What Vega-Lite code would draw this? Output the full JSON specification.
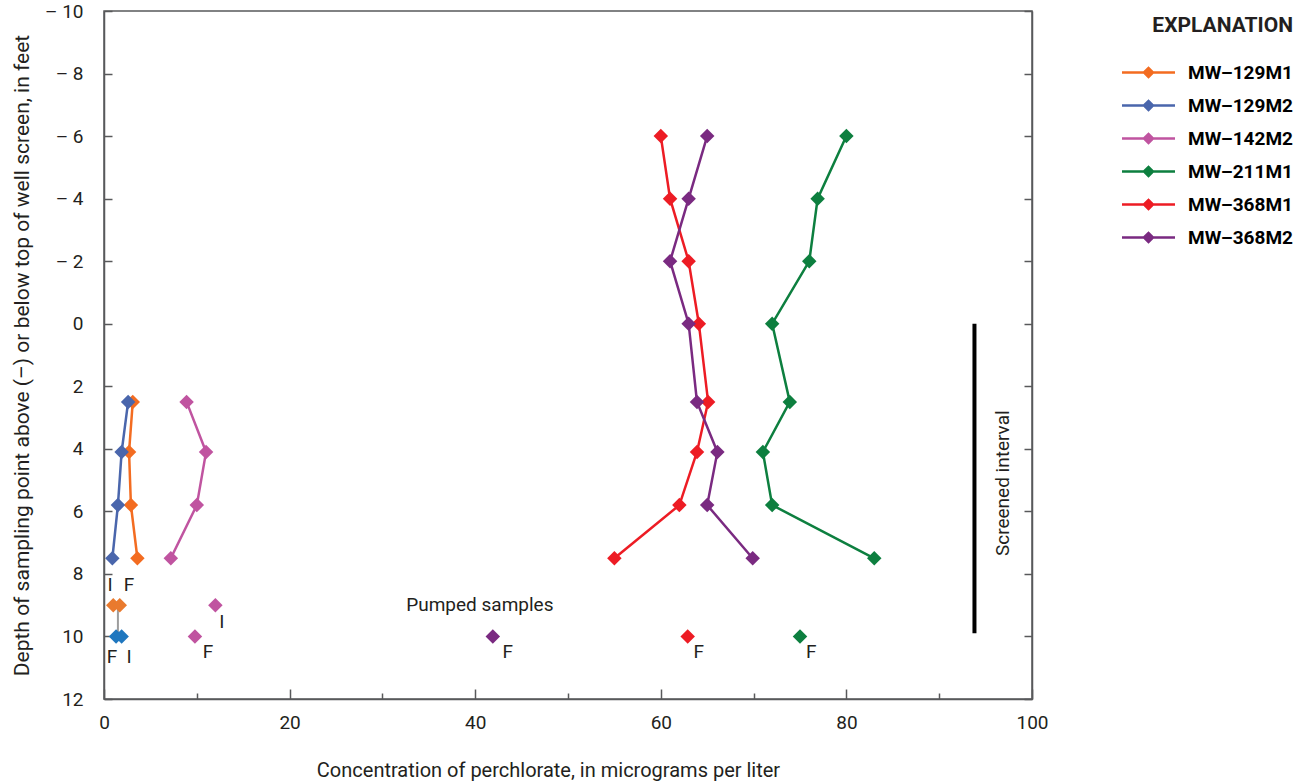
{
  "$schema": "https://vega.github.io/schema/vega-lite/v6.json",
  "autosize": {"type": "none"},
  "width": 928,
  "height": 688,
  "padding": {"left": 104, "top": 11, "right": 263, "bottom": 85},
  "background": "white",
  "config": {
    "font": "Roboto, sans-serif",
    "view": {"stroke": "#58595b", "strokeWidth": 1.5},
    "axis": {
      "labelFont": "Roboto, sans-serif",
      "titleFont": "Roboto, sans-serif",
      "labelColor": "#231f20",
      "titleColor": "#231f20",
      "titleFontWeight": "normal",
      "domainColor": "#58595b",
      "domainWidth": 1.5,
      "tickColor": "#58595b",
      "tickWidth": 1.5,
      "labelFlush": false,
      "grid": false
    }
  },
  "datasets": {
    "profile": [
      {"well": "MW–129M1", "conc": 3.1, "depth": 2.5},
      {"well": "MW–129M1", "conc": 2.7, "depth": 4.1},
      {"well": "MW–129M1", "conc": 2.9, "depth": 5.8},
      {"well": "MW–129M1", "conc": 3.6, "depth": 7.5},
      {"well": "MW–129M2", "conc": 2.6, "depth": 2.5},
      {"well": "MW–129M2", "conc": 1.9, "depth": 4.1},
      {"well": "MW–129M2", "conc": 1.5, "depth": 5.8},
      {"well": "MW–129M2", "conc": 0.9, "depth": 7.5},
      {"well": "MW–142M2", "conc": 8.9, "depth": 2.5},
      {"well": "MW–142M2", "conc": 11.0, "depth": 4.1},
      {"well": "MW–142M2", "conc": 10.0, "depth": 5.8},
      {"well": "MW–142M2", "conc": 7.2, "depth": 7.5},
      {"well": "MW–211M1", "conc": 80.0, "depth": -6},
      {"well": "MW–211M1", "conc": 76.9, "depth": -4},
      {"well": "MW–211M1", "conc": 76.0, "depth": -2},
      {"well": "MW–211M1", "conc": 72.0, "depth": 0},
      {"well": "MW–211M1", "conc": 73.9, "depth": 2.5},
      {"well": "MW–211M1", "conc": 71.0, "depth": 4.1},
      {"well": "MW–211M1", "conc": 72.0, "depth": 5.8},
      {"well": "MW–211M1", "conc": 83.0, "depth": 7.5},
      {"well": "MW–368M1", "conc": 60.0, "depth": -6},
      {"well": "MW–368M1", "conc": 61.0, "depth": -4},
      {"well": "MW–368M1", "conc": 63.0, "depth": -2},
      {"well": "MW–368M1", "conc": 64.1, "depth": 0},
      {"well": "MW–368M1", "conc": 65.1, "depth": 2.5},
      {"well": "MW–368M1", "conc": 63.9, "depth": 4.1},
      {"well": "MW–368M1", "conc": 62.0, "depth": 5.8},
      {"well": "MW–368M1", "conc": 55.0, "depth": 7.5},
      {"well": "MW–368M2", "conc": 65.0, "depth": -6},
      {"well": "MW–368M2", "conc": 63.0, "depth": -4},
      {"well": "MW–368M2", "conc": 61.0, "depth": -2},
      {"well": "MW–368M2", "conc": 63.0, "depth": 0},
      {"well": "MW–368M2", "conc": 63.9, "depth": 2.5},
      {"well": "MW–368M2", "conc": 66.1, "depth": 4.1},
      {"well": "MW–368M2", "conc": 65.0, "depth": 5.8},
      {"well": "MW–368M2", "conc": 69.9, "depth": 7.5}
    ],
    "pumped": [
      {"well": "MW–129M1", "conc": 1.0, "depth": 9},
      {"well": "MW–129M1", "conc": 1.7, "depth": 9},
      {"well": "MW–129M2", "conc": 1.3, "depth": 10},
      {"well": "MW–129M2", "conc": 1.9, "depth": 10},
      {"well": "MW–142M2", "conc": 12.0, "depth": 9},
      {"well": "MW–142M2", "conc": 9.8, "depth": 10},
      {"well": "MW–368M2", "conc": 41.9, "depth": 10},
      {"well": "MW–368M1", "conc": 62.9, "depth": 10},
      {"well": "MW–211M1", "conc": 75.0, "depth": 10}
    ],
    "connector": [{"conc": 1.5, "top": 9, "bottom": 10}],
    "screen": [{"conc": 93.8, "top": 0, "bottom": 9.9}],
    "letters": [
      {"t": "I", "conc": 0.65, "depth": 8.35},
      {"t": "F", "conc": 2.7, "depth": 8.35},
      {"t": "I", "conc": 12.7, "depth": 9.55},
      {"t": "F", "conc": 0.85, "depth": 10.65},
      {"t": "I", "conc": 2.7, "depth": 10.65},
      {"t": "F", "conc": 11.2, "depth": 10.5},
      {"t": "F", "conc": 43.5, "depth": 10.5},
      {"t": "F", "conc": 64.1, "depth": 10.5},
      {"t": "F", "conc": 76.2, "depth": 10.5}
    ],
    "notes": [
      {"t": "Pumped samples", "conc": 40.5, "depth": 9.0, "angle": 0},
      {"t": "Screened interval", "conc": 96.9, "depth": 5.1, "angle": 270}
    ]
  },
  "resolve": {"axis": {"y": "independent"}},
  "layer": [
    {
      "data": {"name": "profile"},
      "mark": {"type": "line", "strokeWidth": 2.5},
      "encoding": {
        "x": {
          "field": "conc", "type": "quantitative",
          "scale": {"domain": [0, 100], "nice": false},
          "axis": {
            "values": [0, 10, 20, 30, 40, 50, 60, 70, 80, 90, 100],
            "labelExpr": "datum.value % 20 == 0 ? datum.label : ''",
            "tickSize": {"condition": {"test": "datum.value % 20 == 0", "value": -10}, "value": -6},
            "labelPadding": 24,
            "labelFontSize": 19,
            "title": "Concentration of perchlorate, in micrograms per liter",
            "titleFontSize": 20,
            "titleBaseline": "middle",
            "titleX": 444,
            "titleY": 71
          }
        },
        "y": {
          "field": "depth", "type": "quantitative",
          "scale": {"domain": [-10, 12], "nice": false, "reverse": true},
          "axis": {
            "orient": "left",
            "values": [-10, -8, -6, -4, -2, 0, 2, 4, 6, 8, 10, 12],
            "labelExpr": "datum.value < 0 ? '– ' + abs(datum.value) : datum.label",
            "tickSize": -8,
            "labelPadding": 29,
            "labelFontSize": 19,
            "title": "Depth of sampling point above (–) or below top of well screen, in feet",
            "titleFontSize": 21,
            "titleAngle": 270,
            "titleBaseline": "middle",
            "titleAlign": "center",
            "titleX": -82,
            "titleY": 344
          }
        },
        "order": {"field": "depth", "type": "quantitative"},
        "color": {
          "field": "well", "type": "nominal",
          "scale": {
            "domain": ["MW–129M1", "MW–129M2", "MW–142M2", "MW–211M1", "MW–368M1", "MW–368M2"],
            "range": ["#f36c21", "#4a66ac", "#c054a0", "#0d7f3f", "#ed1c24", "#7a2a81"]
          },
          "legend": {
            "title": "EXPLANATION",
            "orient": "none",
            "legendX": 1033,
            "legendY": 4,
            "padding": 0,
            "symbolType": "M-2.65,0H2.65M-0.45,0L0,-0.45L0.45,0L0,0.45Z",
            "symbolSize": 400,
            "symbolStrokeWidth": 2.5,
            "labelOffset": 28,
            "rowPadding": 11,
            "titleFont": "Roboto, sans-serif",
            "labelFont": "Roboto, sans-serif",
            "titleFontSize": 21,
            "titleFontWeight": "bold",
            "titleColor": "#231f20",
            "titleAnchor": "end",
            "titlePadding": 25,
            "labelFontSize": 19,
            "labelFontWeight": "bold",
            "labelColor": "#000000",
            "encode": {
              "symbols": {
                "update": {
                  "fill": {"scale": "color", "field": "value"},
                  "stroke": {"scale": "color", "field": "value"},
                  "opacity": {"value": 1}
                }
              }
            }
          }
        }
      }
    },
    {
      "data": {"name": "profile"},
      "mark": {"type": "point", "shape": "diamond", "filled": true, "size": 210, "opacity": 1},
      "encoding": {
        "x": {"field": "conc", "type": "quantitative"},
        "y": {"field": "depth", "type": "quantitative", "axis": null},
        "color": {"field": "well", "type": "nominal"}
      }
    },
    {
      "data": {"name": "connector"},
      "mark": {"type": "rule", "color": "#9d9d9d", "strokeWidth": 2},
      "encoding": {
        "x": {"field": "conc", "type": "quantitative"},
        "y": {"field": "top", "type": "quantitative", "axis": null},
        "y2": {"field": "bottom"}
      }
    },
    {
      "data": {"name": "pumped"},
      "mark": {"type": "point", "shape": "diamond", "filled": true, "size": 210, "opacity": 1},
      "encoding": {
        "x": {"field": "conc", "type": "quantitative"},
        "y": {"field": "depth", "type": "quantitative", "axis": null},
        "fill": {
          "field": "well", "type": "nominal",
          "scale": {
            "domain": ["MW–129M1", "MW–129M2", "MW–142M2", "MW–211M1", "MW–368M1", "MW–368M2"],
            "range": ["#e97a2e", "#1f77bf", "#c054a0", "#0d7f3f", "#ed1c24", "#7a2a81"]
          },
          "legend": null
        }
      }
    },
    {
      "data": {"name": "screen"},
      "mark": {"type": "rule", "color": "#000000", "strokeWidth": 4},
      "encoding": {
        "x": {"field": "conc", "type": "quantitative"},
        "y": {
          "field": "top", "type": "quantitative",
          "axis": {
            "orient": "right",
            "values": [-10, -8, -6, -4, -2, 0, 2, 4, 6, 8, 10, 12],
            "labels": false,
            "title": null,
            "tickSize": -8
          }
        },
        "y2": {"field": "bottom"}
      }
    },
    {
      "data": {"name": "letters"},
      "mark": {"type": "text", "fontSize": 19, "color": "#231f20", "align": "center", "baseline": "middle"},
      "encoding": {
        "x": {"field": "conc", "type": "quantitative"},
        "y": {"field": "depth", "type": "quantitative", "axis": null},
        "text": {"field": "t"}
      }
    },
    {
      "data": {"name": "notes"},
      "mark": {"type": "text", "fontSize": 19, "color": "#231f20", "align": "center", "baseline": "middle"},
      "encoding": {
        "x": {"field": "conc", "type": "quantitative"},
        "y": {"field": "depth", "type": "quantitative", "axis": null},
        "text": {"field": "t"},
        "angle": {"field": "angle", "type": "quantitative", "scale": null}
      }
    }
  ]
}
